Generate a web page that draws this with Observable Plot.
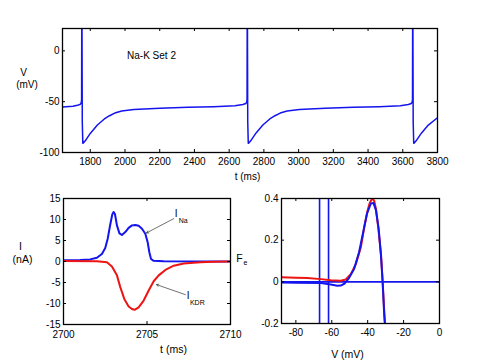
<!DOCTYPE html>
<html><head><meta charset="utf-8">
<script src="https://cdn.jsdelivr.net/npm/d3@7"></script>
<script src="https://cdn.jsdelivr.net/npm/@observablehq/plot@0.6"></script>
<style>
body{margin:0;background:#fff}
#wrap{position:relative;width:485px;height:363px;overflow:hidden;background:#fff;font-family:"Liberation Sans",Arial,sans-serif}
#wrap svg{position:absolute}
</style></head><body><div id="wrap"></div>
<script>
// ---------- Top panel: membrane potential V(t) ----------
const vTime = [1640,1700,1726,1743,1748,1750,1751,1752,1754,1757,1761,1771,1801,1841,1881,1911,1941,1981,2051,2201,2363,2511,2633,2679,2696,2701,2703,2704,2705,2707,2710,2714,2724,2754,2794,2834,2864,2894,2934,3004,3154,3316,3464,3586,3632,3649,3654,3656,3657,3658,3660,3663,3667,3677,3707,3747,3800];
const vVolt = [-55.3,-54.6,-53.6,-52.5,-50.8,-48,40,40,-70,-91,-90.5,-88.5,-81,-73,-67,-63.8,-61.2,-59.2,-57.6,-56.5,-55.6,-54.9,-53.9,-52.8,-51.8,-50.5,-48,40,40,-70,-91,-90.5,-88.5,-81,-73,-67,-63.8,-61.2,-59.2,-57.6,-56.5,-55.6,-54.9,-53.9,-52.8,-51.8,-50.5,-48,40,40,-70,-91,-90.5,-88.5,-81,-73,-65.8];
const vXTicks = [1800,2000,2200,2400,2600,2800,3000,3200,3400,3600,3800];
const vYTicks = [-100,-50,0];
const vTitle = "Na-K Set 2";

// ---------- Bottom-left: currents ----------
const naT = [2700,2701,2701.6,2702,2702.3,2702.5,2702.65,2702.8,2702.92,2703,2703.08,2703.2,2703.35,2703.5,2703.7,2703.9,2704.1,2704.3,2704.5,2704.7,2704.9,2705.04,2705.14,2705.24,2705.4,2706,2710];
const naI = [0.3,0.35,0.5,0.9,1.8,3.2,5.5,8.8,11.2,11.8,11.3,8.6,6.7,6.3,7.0,8.0,8.6,8.7,8.5,7.8,6.6,4.6,2.2,0.6,0.15,0.05,0];
const kT = [2700,2702,2702.6,2702.9,2703.2,2703.4,2703.64,2703.9,2704.1,2704.26,2704.5,2704.8,2705.1,2705.4,2705.7,2706.1,2706.6,2707.2,2708.2,2709,2710];
const kI = [0.1,0.05,-0.2,-1.2,-3.3,-6.1,-8.9,-10.7,-11.3,-11.5,-10.9,-9.3,-6.9,-4.7,-3.3,-2.0,-1.0,-0.5,-0.16,-0.05,0];
const iXTicks = [2700,2705,2710];
const iYTicks = [-15,-10,-5,0,5,10,15];
// annotation anchors (data coordinates): label position and arrow
const naLabel = {t:2706.75, i:11.3, sub:"Na", st:2706.9, si:9.8, t1:2706.6, i1:10.2, t2:2704.97, i2:6.8};
const kLabel  = {t:2707.47, i:-8.2, sub:"KDR", st:2707.57, si:-9.76, t1:2707.3, i1:-7.9, t2:2705.57, i2:-5.5};

// ---------- Bottom-right: F_e(V) ----------
const feVRed = [-88,-80,-73.6,-66,-60.6,-55,-52.2,-49.4,-46.6,-43.8,-41.9,-40,-39,-38,-37.2,-36.4,-35.4,-34.1,-32.6,-31.7,-31.1,-30.4,-30];
const feRed  = [0.022,0.02,0.018,0.013,0.008,0.005,0.011,0.037,0.085,0.166,0.263,0.344,0.375,0.393,0.398,0.39,0.35,0.26,0.134,0.005,-0.09,-0.2,-0.26];
const feVBlue = [-88,-80,-66,-60.6,-56.9,-55,-52.8,-50.4,-47.6,-44.8,-42.3,-40.4,-38.2,-36.8,-35.4,-33.9,-32.6,-31.7,-30.8,-30.4,-30];
const feBlue  = [-0.003,-0.004,-0.006,-0.013,-0.019,-0.018,-0.008,0.018,0.061,0.142,0.247,0.327,0.376,0.379,0.344,0.255,0.126,0.005,-0.156,-0.2,-0.26];
const feVLines = [-66.8,-61.8];
const feHLines = [0];
const fXTicks = [-80,-60,-40,-20,0];
const fYTicks = [-0.2,0,0.2,0.4];

const BLUE = "#1414ee", RED = "#ee1414";
const fmt = d => String(d);
const baseStyle = {background:"transparent", overflow:"visible", fontFamily:"'Liberation Sans', Arial, sans-serif", color:"#000"};

function boxTicks(xt, yt, innerW, innerH, len) {
  return [
    Plot.tickX(xt, {x: d => d, insetTop: innerH - len, stroke: "black"}),
    Plot.tickX(xt, {x: d => d, insetBottom: innerH - len, stroke: "black"}),
    Plot.tickY(yt, {y: d => d, insetRight: innerW - len, stroke: "black"}),
    Plot.tickY(yt, {y: d => d, insetLeft: innerW - len, stroke: "black"}),
    Plot.frame({stroke: "black", strokeWidth: 1.3})
  ];
}
function place(svg, left, top) {
  svg.style.position = "absolute"; svg.style.left = left + "px"; svg.style.top = top + "px";
  document.getElementById("wrap").appendChild(svg);
}
const lbl = (s, dx, dy, fontSize, textAnchor = "middle") =>
  Plot.text([s], {frameAnchor: "top-left", dx, dy, fontSize, textAnchor});

// Top
const topPlot = Plot.plot({
  width: 485, height: 180, marginTop: 28, marginBottom: 28, marginLeft: 62, marginRight: 48,
  style: {...baseStyle, fontSize: "10px"},
  x: {domain: [1640, 3800], ticks: vXTicks, tickSize: 0, tickPadding: 5, tickFormat: fmt, label: null},
  y: {domain: [-100, 22], ticks: vYTicks, tickSize: 0, tickPadding: 3, tickFormat: fmt, label: null},
  marks: [
    Plot.line(vTime, {x: vTime, y: vVolt, stroke: BLUE, strokeWidth: 1.5, clip: true}),
    ...boxTicks(vXTicks, vYTicks, 375, 124, 3),
    lbl(vTitle, 89, 23, 10),
    lbl("V", -39, 40, 10),
    lbl("(mV)", -35.5, 52, 10),
    lbl("t (ms)", 185, 144, 10)
  ]
});
place(topPlot, 0, 0);

// Bottom-left
const ann = [naLabel, kLabel];
const leftPlot = Plot.plot({
  width: 245, height: 183, marginTop: 18, marginBottom: 39, marginLeft: 63, marginRight: 15,
  style: {...baseStyle, fontSize: "10px"},
  x: {domain: [2700, 2710], ticks: iXTicks, tickSize: 0, tickPadding: 6.5, tickFormat: fmt, label: null},
  y: {domain: [-15, 15], ticks: iYTicks, tickSize: 0, tickPadding: 3, tickFormat: fmt, label: null},
  marks: [
    Plot.line(naT, {x: naT, y: naI, stroke: BLUE, strokeWidth: 2, clip: true}),
    Plot.line(kT, {x: kT, y: kI, stroke: RED, strokeWidth: 2, clip: true}),
    ...boxTicks(iXTicks, iYTicks, 167, 126, 3),
    Plot.arrow(ann, {x1: "t1", y1: "i1", x2: "t2", y2: "i2", stroke: "#333", strokeWidth: 0.7, headLength: 5, bend: 0}),
    Plot.text(ann, {x: "t", y: "i", text: () => "I", fontSize: 10}),
    Plot.text(ann, {x: "st", y: "si", text: "sub", fontSize: 7, textAnchor: "start"}),
    lbl("I", -43, 44, 10.5),
    lbl("(nA)", -41, 57, 10.5),
    lbl("t (ms)", 110, 147, 10.5)
  ]
});
place(leftPlot, 0, 180);

// Bottom-right
const rightPlot = Plot.plot({
  width: 255, height: 183, marginTop: 18, marginBottom: 40, marginLeft: 51, marginRight: 46,
  style: {...baseStyle, fontSize: "10px"},
  x: {domain: [-88, 0], ticks: fXTicks, tickSize: 0, tickPadding: 5, tickFormat: fmt, label: null},
  y: {domain: [-0.2, 0.4], ticks: fYTicks, tickSize: 0, tickPadding: 3, tickFormat: fmt, label: null},
  marks: [
    Plot.ruleX(feVLines, {stroke: BLUE, strokeWidth: 1.6}),
    Plot.ruleY(feHLines, {stroke: BLUE, strokeWidth: 1.6}),
    Plot.line(feVRed, {x: feVRed, y: feRed, stroke: RED, strokeWidth: 2, clip: true}),
    Plot.line(feVBlue, {x: feVBlue, y: feBlue, stroke: BLUE, strokeWidth: 2, clip: true}),
    ...boxTicks(fXTicks, fYTicks, 158, 125, 3),
    lbl("F", -42, 56, 10.5),
    lbl("e", -38, 62, 7, "start"),
    lbl("V (mV)", 66, 152, 10.5)
  ]
});
place(rightPlot, 230, 180);
</script></body></html>
